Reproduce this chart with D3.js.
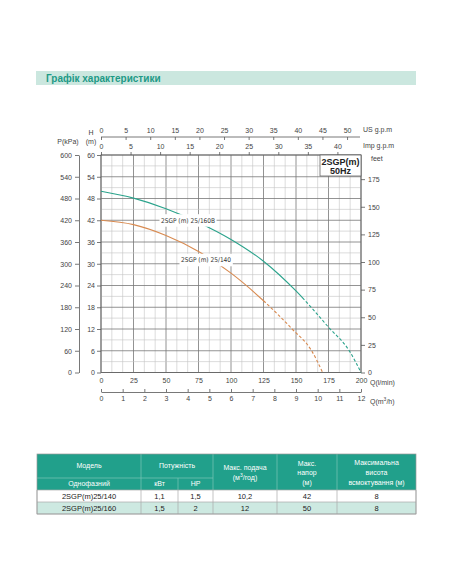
<!DOCTYPE html>
<html>
<head>
<meta charset="utf-8">
<script src="https://cdn.jsdelivr.net/npm/d3@7"></script>
<style>
  body { margin: 0; background: #fff; }
  svg { display: block; font-family: "Liberation Sans", Arial, sans-serif; }
</style>
</head>
<body>
<div id="chart"></div>
<script>
// --- Data ---
const title = "Графік характеристики";
const q160 = [0, 25, 50, 75, 100, 125, 150, 175, 191.5, 200];          // l/min
const h160 = [50, 48.1, 45.2, 41.4, 36.7, 30.7, 22.5, 12.5, 5.7, 0];    // m
const q140 = [0, 25, 50, 75, 100, 125, 147, 162, 170.5];
const h140 = [42, 40.8, 37.8, 33.4, 27.4, 19.8, 12, 6, 0];
const solidUntil160 = 155;
const solidUntil140 = 125;
const label160 = "2SGP (m) 25/160B";
const label140 = "2SGP (m) 25/140";
const hTicks = [0, 6, 12, 18, 24, 30, 36, 42, 48, 54, 60];
const pTicks = [0, 60, 120, 180, 240, 300, 360, 420, 480, 540, 600];
const feetTicks = [0, 25, 50, 75, 100, 125, 150, 175];
const qTicks = [0, 25, 50, 75, 100, 125, 150, 175, 200];
const m3Ticks = [0, 1, 2, 3, 4, 5, 6, 7, 8, 9, 10, 11, 12];
const usTicks = [0, 5, 10, 15, 20, 25, 30, 35, 40, 45, 50];
const impTicks = [0, 5, 10, 15, 20, 25, 30, 35, 40];

// table
const tableModels = ["2SGP(m)25/140", "2SGP(m)25/160"];
const tableKw = ["1,1", "1,5"];
const tableHp = ["1,5", "2"];
const tableFlow = ["10,2", "12"];
const tableHead = ["42", "50"];
const tableSuction = ["8", "8"];

const width = 452, height = 584;
const teal = "#2ba38c", orange = "#d88a50", axisCol = "#555", txt = "#444";

const svg = d3.select("#chart").append("svg")
  .attr("width", width).attr("height", height);

// --- Title bar ---
svg.append("rect").attr("x", 36).attr("y", 71).attr("width", 380).attr("height", 14)
  .attr("fill", "#cbe7df");
svg.append("text").attr("x", 46).attr("y", 81.5).text(title)
  .attr("font-size", 10).attr("font-weight", "bold").attr("fill", "#1e9a86");

// --- Scales ---
const x = d3.scaleLinear().domain([0, 200]).range([101, 361]);
const y = d3.scaleLinear().domain([0, 60]).range([372.5, 155]);
const yP = d3.scaleLinear().domain([0, 600]).range([372.5, 155]);
const yFt = d3.scaleLinear().domain([0, 60 * 3.28084]).range([372.5, 155]);
const xM3 = d3.scaleLinear().domain([0, 12]).range([101, 361]);
const xUs = d3.scaleLinear().domain([0, 200 / 3.78541]).range([101, 361]);
const xImp = d3.scaleLinear().domain([0, 200 / 4.54609]).range([101, 361]);

// --- Grid ---
const grid = svg.append("g");
d3.range(0, 200.1, 25 / 3).forEach((v, i) => {
  grid.append("line").attr("x1", x(v)).attr("x2", x(v)).attr("y1", y(0)).attr("y2", y(60))
    .attr("stroke", i % 3 === 0 ? "#777" : "#c4c4c4").attr("stroke-width", i % 3 === 0 ? 0.8 : 0.6);
});
d3.range(0, 60.1, 3).forEach((v, i) => {
  grid.append("line").attr("x1", x(0)).attr("x2", x(200)).attr("y1", y(v)).attr("y2", y(v))
    .attr("stroke", i % 2 === 0 ? "#777" : "#c4c4c4").attr("stroke-width", i % 2 === 0 ? 0.8 : 0.6);
});
svg.append("rect").attr("x", x(0)).attr("y", y(60)).attr("width", x(200) - x(0))
  .attr("height", y(0) - y(60)).attr("fill", "none").attr("stroke", "#666").attr("stroke-width", 0.9);

// --- Axes ---
function styleAxis(g) {
  g.selectAll("path, line").attr("stroke", axisCol).attr("stroke-width", 0.8);
  g.selectAll("text").attr("fill", txt).attr("font-size", 7)
    .attr("font-family", "Liberation Sans, Arial, sans-serif");
}
svg.append("g").attr("transform", "translate(101,0)")
  .call(d3.axisLeft(y).tickValues(hTicks).tickSize(4).tickSizeOuter(0).tickPadding(2))
  .call(styleAxis).call(g => g.select(".domain").remove());
svg.append("g").attr("transform", "translate(79,0)")
  .call(d3.axisLeft(yP).tickValues(pTicks).tickSize(4).tickSizeOuter(0).tickPadding(3))
  .call(styleAxis);
svg.append("g").attr("transform", "translate(361,0)")
  .call(d3.axisRight(yFt).tickValues(feetTicks).tickSize(4).tickSizeOuter(0).tickPadding(3))
  .call(styleAxis).call(g => g.select(".domain").remove());
svg.append("g").attr("transform", "translate(0,372.5)")
  .call(d3.axisBottom(x).tickValues(qTicks).tickSize(0).tickPadding(6))
  .call(styleAxis).call(g => g.select(".domain").remove());
svg.append("g").attr("transform", "translate(0,392)")
  .call(d3.axisTop(xM3).tickValues(m3Ticks).tickSize(3).tickSizeOuter(0))
  .call(styleAxis)
  .call(g => g.selectAll("text").attr("transform", "translate(0,15)"));
svg.append("g").attr("transform", "translate(0,137)")
  .call(d3.axisTop(xUs).tickValues(usTicks).tickSize(0).tickPadding(4))
  .call(styleAxis)
  .call(g => g.select(".domain").attr("d", `M101,0H360`))
  .call(g => g.selectAll(".tick line").attr("y2", 3));
svg.append("g").attr("transform", "translate(0,155)")
  .call(d3.axisTop(xImp).tickValues(impTicks).tickSize(3).tickSizeOuter(0).tickPadding(3))
  .call(styleAxis).call(g => g.select(".domain").remove());

// axis titles
const lab = (t, xx, yy, anchor = "start") => svg.append("text").attr("x", xx).attr("y", yy)
  .attr("font-size", 7).attr("fill", txt).attr("text-anchor", anchor).text(t);
lab("H", 91, 135, "middle");
lab("(m)", 91, 144, "middle");
lab("P(kPa)", 68, 144, "middle");
lab("US  g.p.m", 363, 132);
lab("Imp  g.p.m", 363, 148);
lab("feet", 371, 161);
lab("Q(l/min)", 370, 384.5);
svg.append("text").attr("x", 370).attr("y", 403.5).attr("font-size", 7).attr("fill", txt)
  .html('Q(m<tspan font-size="5" dy="-3">3</tspan><tspan dy="3">/h)</tspan>');

// --- Model box ---
svg.append("rect").attr("x", 320).attr("y", 155).attr("width", 41).attr("height", 21)
  .attr("fill", "#fff").attr("stroke", "#666").attr("stroke-width", 0.8);
svg.append("text").attr("x", 340.5).attr("y", 164.5).attr("text-anchor", "middle")
  .attr("font-size", 9).attr("font-weight", "bold").attr("fill", "#222").text("2SGP(m)");
svg.append("text").attr("x", 340.5).attr("y", 173.5).attr("text-anchor", "middle")
  .attr("font-size", 9).attr("font-weight", "bold").attr("fill", "#222").text("50Hz");

// --- Curves ---
const line = d3.line().x(d => x(d[0])).y(d => y(d[1])).curve(d3.curveMonotoneX);
function drawCurve(qs, hs, limit, color) {
  const pts = qs.map((q, i) => [q, hs[i]]);
  const path = svg.append("path").attr("d", line(pts)).attr("fill", "none")
    .attr("stroke", color).attr("stroke-width", 1.1);
  const node = path.node();
  const total = node.getTotalLength();
  // longueur où la courbe atteint la limite -> trait plein, puis pointillé
  let lo = 0, hi = total;
  for (let k = 0; k < 30; k++) {
    const m = (lo + hi) / 2;
    if (node.getPointAtLength(m).x < x(limit)) lo = m; else hi = m;
  }
  const pattern = [lo, 0.001];
  for (let s = 0; s < total - lo; s += 5) pattern.push(3, 2);
  path.attr("stroke-dasharray", pattern.join(","));
}
drawCurve(q160, h160, solidUntil160, teal);
drawCurve(q140, h140, solidUntil140, orange);

// --- Curve labels ---
function curveLabel(t, left, cy) {
  const g = svg.append("g");
  const tx = g.append("text").attr("x", left).attr("y", cy + 2.3)
    .attr("font-size", 6.5).attr("fill", "#333")
    .attr("font-family", "DejaVu Sans Condensed, Liberation Sans Narrow, sans-serif")
    .text(t);
  const b = tx.node().getBBox();
  g.insert("rect", "text").attr("x", b.x - 1.5).attr("y", cy - 6).attr("width", b.width + 3)
    .attr("height", 12.5).attr("fill", "#fff");
}
curveLabel(label160, 161, 220.2);
curveLabel(label140, 181, 259.8);

// --- Table ---
const cols = [37, 141, 178, 213, 277, 337, 416];
const tbl = svg.append("g").attr("font-size", 7.5);
const headTop = 454, headMid = 478, headBot = 490, rowH = 12;
tbl.append("rect").attr("x", cols[0]).attr("y", headTop).attr("width", cols[6] - cols[0])
  .attr("height", headBot - headTop).attr("fill", "#21a08b");
tbl.append("rect").attr("x", cols[0]).attr("y", headBot + rowH).attr("width", cols[6] - cols[0])
  .attr("height", rowH).attr("fill", "#cde9e1");
tbl.append("rect").attr("x", cols[0]).attr("y", headBot).attr("width", cols[6] - cols[0])
  .attr("height", rowH).attr("fill", "#fff");
const vline = (xx, y1, y2, c) => tbl.append("line").attr("x1", xx).attr("x2", xx)
  .attr("y1", y1).attr("y2", y2).attr("stroke", c).attr("stroke-width", 0.7);
const hline = (x1, x2, yy, c) => tbl.append("line").attr("x1", x1).attr("x2", x2)
  .attr("y1", yy).attr("y2", yy).attr("stroke", c).attr("stroke-width", 0.7);
[1, 3, 4, 5].forEach(i => vline(cols[i], headTop, headBot, "#7cc5b8"));
vline(cols[2], headMid, headBot, "#7cc5b8");
hline(cols[0], cols[3], headMid, "#7cc5b8");
cols.forEach(c => vline(c, headBot, headBot + 2 * rowH, "#aaa"));
[headBot, headBot + rowH, headBot + 2 * rowH].forEach(yy => hline(cols[0], cols[6], yy, "#aaa"));
tbl.append("rect").attr("x", cols[0]).attr("y", headTop).attr("width", cols[6] - cols[0])
  .attr("height", headBot + 2 * rowH - headTop).attr("fill", "none").attr("stroke", "#999").attr("stroke-width", 0.7);

const ht = (t, cx, cy) => tbl.append("text").attr("x", cx).attr("y", cy).attr("text-anchor", "middle")
  .attr("fill", "#fff").attr("font-size", 7).text(t);
const mid = (a, b) => (cols[a] + cols[b]) / 2;
ht("Модель", mid(0, 1), 468);
ht("Однофазний", mid(0, 1), 486);
ht("Потужність", mid(1, 3), 468);
ht("кВт", mid(1, 2), 486);
ht("HP", mid(2, 3), 486);
ht("Макс. подача", mid(3, 4), 470);
tbl.append("text").attr("x", mid(3, 4)).attr("y", 479.5).attr("text-anchor", "middle")
  .attr("fill", "#fff").attr("font-size", 7)
  .html('(м<tspan font-size="5" dy="-2.5">3</tspan><tspan dy="2.5">/год)</tspan>');
ht("Макс.", mid(4, 5), 465.5);
ht("напор", mid(4, 5), 475);
ht("(м)", mid(4, 5), 484.5);
ht("Максимальна", mid(5, 6), 465);
ht("висота", mid(5, 6), 475);
ht("всмоктування (м)", mid(5, 6), 485);

const rowVals = [tableModels, tableKw, tableHp, tableFlow, tableHead, tableSuction];
tableModels.forEach((m, r) => {
  rowVals.forEach((arr, c) => {
    tbl.append("text").attr("x", mid(c, c + 1)).attr("y", headBot + r * rowH + 9)
      .attr("text-anchor", "middle").attr("fill", "#222").attr("font-size", 7.5).text(arr[r]);
  });
});
</script>
</body>
</html>
